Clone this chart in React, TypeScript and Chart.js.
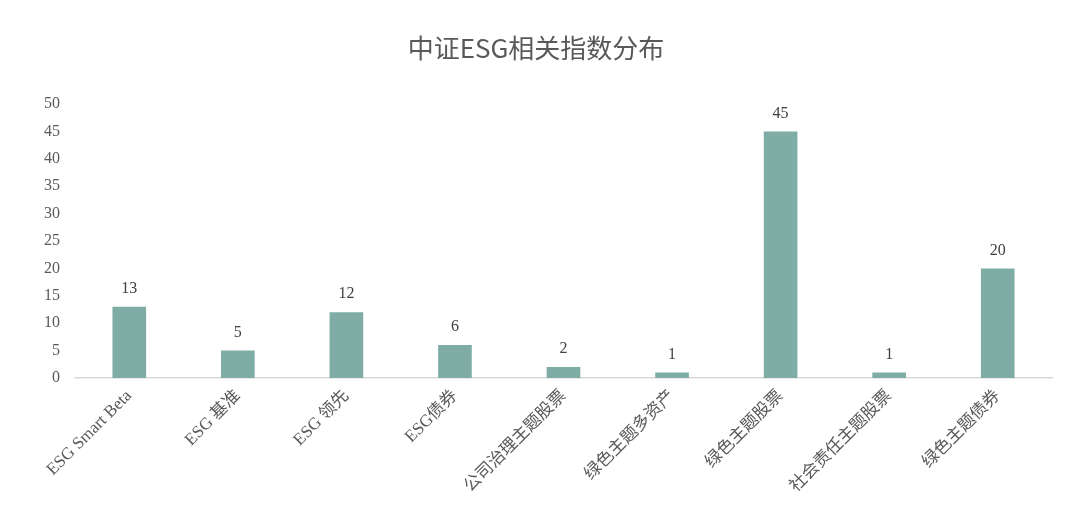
import React, { useEffect, useRef } from 'react';
import Chart from 'chart.js/auto';

const categories = ['ESG Smart Beta', 'ESG 基准', 'ESG 领先', 'ESG债券', '公司治理主题股票', '绿色主题多资产', '绿色主题股票', '社会责任主题股票', '绿色主题债券'];
const counts = [13, 5, 12, 6, 2, 1, 45, 1, 20];
const yTicks = [0, 5, 10, 15, 20, 25, 30, 35, 40, 45, 50];
const chartTitle = '中证ESG相关指数分布';

const serif = "'Liberation Serif', 'Times New Roman', 'Noto Sans CJK SC', serif";

// draws the value above each bar
const valueLabels = {
  id: 'valueLabels',
  afterDatasetsDraw(chart: any) {
    const ctx = chart.ctx;
    const meta = chart.getDatasetMeta(0);
    ctx.save();
    ctx.font = `16px ${serif}`;
    ctx.fillStyle = '#404040';
    ctx.textAlign = 'center';
    ctx.textBaseline = 'bottom';
    meta.data.forEach((bar: any, i: number) => {
      ctx.fillText(String(counts[i]), bar.x, bar.y - 10);
    });
    ctx.restore();
  }
};

// title centred on the whole canvas, like the original
const centredTitle = {
  id: 'centredTitle',
  afterDraw(chart: any) {
    const ctx = chart.ctx;
    ctx.save();
    ctx.font = "26px 'Noto Sans CJK SC', 'Noto Sans', sans-serif";
    ctx.fillStyle = '#595959';
    ctx.textAlign = 'center';
    ctx.textBaseline = 'middle';
    ctx.fillText(chartTitle, chart.width / 2 - 4, 48);
    ctx.restore();
  }
};

const App: React.FC = () => {
  const canvasRef = useRef<HTMLCanvasElement>(null);
  const chartRef = useRef<any>(null);

  useEffect(() => {
    document.body.style.margin = '0';
    if (chartRef.current) chartRef.current.destroy();
    if (!canvasRef.current) return;

    chartRef.current = new Chart(canvasRef.current, {
      type: 'bar',
      data: {
        labels: categories,
        datasets: [{
          data: counts,
          backgroundColor: '#7fada6',
          barPercentage: 0.31,
          categoryPercentage: 1
        }]
      },
      options: {
        animation: false,
        responsive: false,
        maintainAspectRatio: false,
        layout: { padding: { left: 0, right: 28, top: 104, bottom: 0 } },
        plugins: {
          legend: { display: false },
          tooltip: { enabled: false },
          title: { display: false }
        },
        scales: {
          x: {
            grid: { display: false, drawTicks: false },
            border: { display: true, color: '#d9d9d9', width: 1.5 },
            ticks: {
              color: '#595959',
              font: { family: serif, size: 17 },
              minRotation: 45,
              maxRotation: 45,
              padding: 8,
              autoSkip: false
            },
            afterFit(scale: any) { scale.height = 139; }
          },
          y: {
            min: 0,
            max: 50,
            grid: { display: false, drawTicks: false },
            border: { display: false },
            afterBuildTicks(scale: any) { scale.ticks = yTicks.map(v => ({ value: v })); },
            ticks: {
              color: '#595959',
              font: { family: serif, size: 16 },
              padding: 15
            },
            afterFit(scale: any) { scale.width = 75; }
          }
        }
      },
      plugins: [valueLabels, centredTitle]
    });

    return () => {
      if (chartRef.current) chartRef.current.destroy();
      chartRef.current = null;
    };
  }, []);

  return (
    <div style={{ width: 1080, height: 517, background: '#ffffff' }}>
      <canvas ref={canvasRef} width={1080} height={517}></canvas>
    </div>
  );
};

export default App;
